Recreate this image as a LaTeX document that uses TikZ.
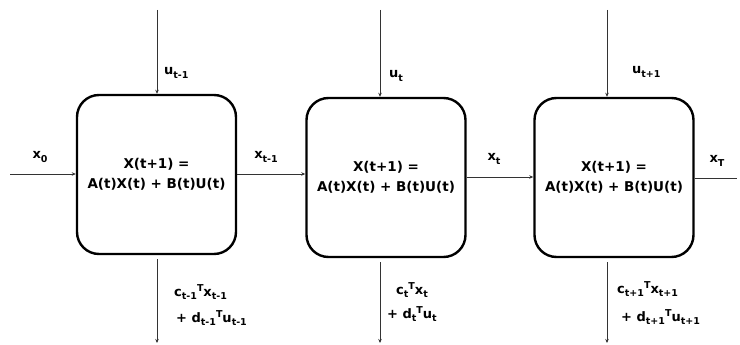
\documentclass[tikz,border=0pt]{standalone}
\usepackage{fontspec}
\setmainfont{DejaVu Sans}
\usetikzlibrary{arrows.meta}
\newcommand\sbs[1]{\raisebox{-0.45ex}{\fontsize{9.5}{9.5}\selectfont #1}}
\newcommand\sps[1]{\raisebox{0.75ex}{\fontsize{9.5}{9.5}\selectfont #1}}
\tikzset{
  stage/.style={draw=black, line width=2.4pt, rounded corners=22pt, inner sep=0pt,
    minimum width=159pt, minimum height=159pt, align=center,
    font=\fontsize{13.5}{20}\selectfont\bfseries},
  wire/.style={draw=black!80, line width=0.9pt},
  arr/.style={wire, -{Stealth[length=4pt,width=3.5pt]}},
  lbl/.style={inner sep=0pt, anchor=west, align=left,
    font=\fontsize{13}{26}\selectfont\bfseries}
}
\begin{document}
\begin{tikzpicture}[x=1pt,y=-1pt]
\useasboundingbox (0,0) rectangle (740,345);

% three stage boxes
\node[stage] (b1) at (156.5,174.5) {X(t+1) =\\A(t)X(t) + B(t)U(t)};
\node[stage] (b2) at (386,177.5) {X(t+1) =\\A(t)X(t) + B(t)U(t)};
\node[stage] (b3) at (614,177.5) {X(t+1) =\\A(t)X(t) + B(t)U(t)};

% state flow
\coordinate (x0) at (10,174);
\coordinate (xend) at (737,178);
\draw[arr] (x0) -- (x0 -| b1.west);
\draw[arr] (b1.east |- 0,174) -- (b2.west |- 0,174);
\draw[arr] (b2.east |- 0,177) -- (b3.west |- 0,177);
\draw[wire] (b3.east |- xend) -- (xend);

% control inputs
\coordinate (u1) at (157,10);
\coordinate (u2) at (380,10);
\coordinate (u3) at (607,10);
\draw[arr] (u1) -- (u1 |- b1.north);
\draw[arr] (u2) -- (u2 |- b2.north);
\draw[arr] (u3) -- (u3 |- b3.north);

% stage costs
\coordinate (c1) at (157,343);
\coordinate (c2) at (380,343);
\coordinate (c3) at (607,343);
\draw[arr] ([yshift=-4pt]c1 |- b1.south) -- (c1);
\draw[arr] ([yshift=-4pt]c2 |- b2.south) -- (c2);
\draw[arr] ([yshift=-4pt]c3 |- b3.south) -- (c3);

% state labels
\node[lbl, anchor=center] (lx0) at (40,157) {x\sbs{0}};
\node[lbl, anchor=center] (lx1) at (266,157) {x\sbs{t-1}};
\node[lbl, anchor=center] (lx2) at (494,159) {x\sbs{t}};
\node[lbl, anchor=center] (lx3) at (717,161) {x\sbs{T}};

% control labels
\node[lbl] (lu1) at (164,73) {u\sbs{t-1}};
\node[lbl] (lu2) at (389,76) {u\sbs{t}};
\node[lbl] (lu3) at (632,72) {u\sbs{t+1}};

% cost labels
\node[lbl] (lc1a) at (174,292) {c\sbs{t-1}\sps{T}x\sbs{t-1}};
\node[lbl] (lc1b) at (176,318) {+ d\sbs{t-1}\sps{T}u\sbs{t-1}};
\node[lbl] (lc2a) at (396,290) {c\sbs{t}\sps{T}x\sbs{t}};
\node[lbl] (lc2b) at (387,314) {+ d\sbs{t}\sps{T}u\sbs{t}};
\node[lbl] (lc3a) at (617,289) {c\sbs{t+1}\sps{T}x\sbs{t+1}};
\node[lbl] (lc3b) at (621,317) {+ d\sbs{t+1}\sps{T}u\sbs{t+1}};
\end{tikzpicture}
\end{document}
